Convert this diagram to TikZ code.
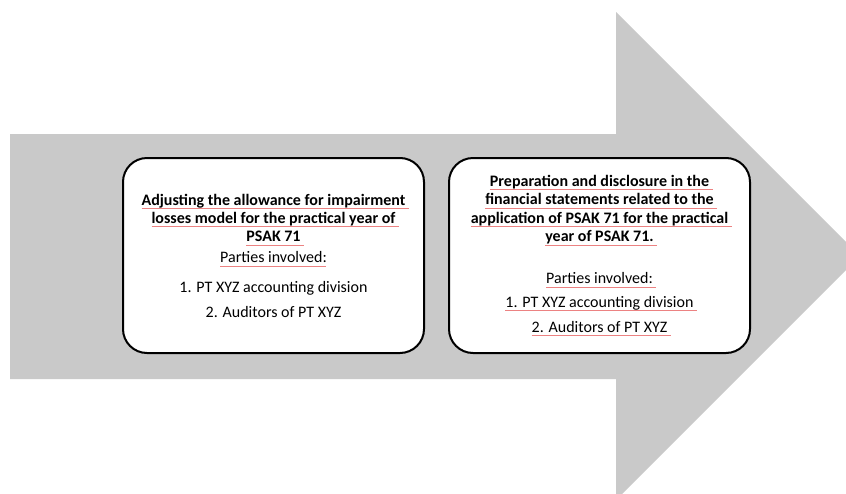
\documentclass[tikz,border=0pt]{standalone}
\usepackage{fontspec}
\setmainfont{Carlito}
\usepackage{xcolor}
\usepackage{tikz}
\usetikzlibrary{positioning}
\definecolor{arrowgray}{RGB}{201,201,201}
\definecolor{squig}{RGB}{236,130,130}
% spell-check style underline under a line of text
\newlength\sqlen
\newcommand\sq[1]{\settowidth\sqlen{#1\ }\rlap{\color{squig}\rule[-2.8pt]{\sqlen}{0.6pt}}#1}
\tikzstyle{stage}=[draw,line width=1.5pt,fill=white,rounded corners=18pt,align=center,
  minimum width=225.75pt,minimum height=146.25pt,inner sep=0pt,
  font=\fontsize{12pt}{13.8pt}\selectfont]
\begin{document}
\begin{tikzpicture}[x=0.75pt,y=-0.75pt]
	\useasboundingbox (0,0) rectangle (846,493);
	\clip (0,0) rectangle (846,493);
	\fill[arrowgray] (10,134) -- (616,134) -- (616,12) -- (860,256)
	  -- (616,500) -- (616,379) -- (10,379) -- cycle;
	\node[stage] (adjust) at (273.5,255.5) {%
	  \sq{\textbf{Adjusting the allowance for impairment}}\\
	  \sq{\textbf{losses model for the practical year of}}\\
	  \sq{\textbf{PSAK 71}}\\[2pt]
	  \sq{Parties involved}:\\[8pt]
	  1. PT XYZ accounting division\\[5pt]
	  2. Auditors of PT XYZ};
	\node[stage,right=17.25pt of adjust] (prepare) {%
	  \sq{\textbf{Preparation and disclosure in the}}\\
	  \sq{\textbf{financial statements related to the}}\\
	  \sq{\textbf{application of PSAK 71 for the practical}}\\
	  \sq{\textbf{year of PSAK 71.}}\\[18pt]
	  \sq{Parties involved:}\\[3.5pt]
	  \sq{1. PT XYZ accounting division}\\[5pt]
	  \sq{2. Auditors of PT XYZ}};
\end{tikzpicture}
\end{document}
